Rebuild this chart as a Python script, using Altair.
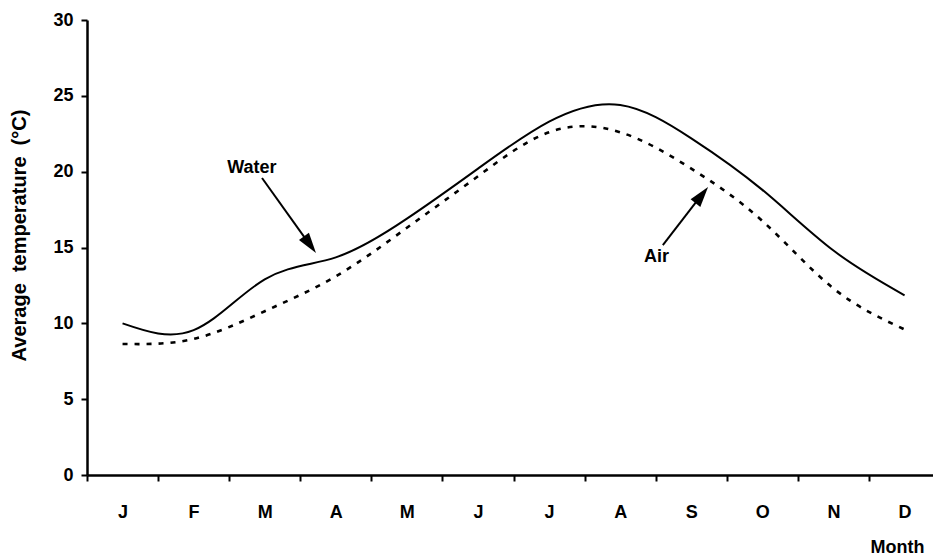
import altair as alt
import pandas as pd

# Monthly mean temperatures (°C)
months = ["J", "F", "M", "A", "M", "J", "J", "A", "S", "O", "N", "D"]
water = [10.0, 9.55, 12.9, 14.35, 16.9, 20.2, 23.3, 24.4, 22.2, 18.8, 14.8, 11.85]
air = [8.64, 8.97, 10.8, 13.1, 16.3, 19.7, 22.6, 22.6, 20.2, 16.75, 12.3, 9.6]

# Callout labels and their arrows (data coordinates: month index, °C)
label_text = ["Water", "Air"]
label_x = [2.32, 8.01]
label_y = [19.91, 14.06]
arrow_x0 = [2.462, 8.10]
arrow_y0 = [19.58, 15.16]
shaft_x1 = [3.10, 8.61]
shaft_y1 = [15.40, 18.25]
tip_x = [3.221, 8.736]
tip_y = [14.64, 18.99]
tip_angle = [144, 38]

FONT = "Liberation Sans"
NBSP2 = "\u00a0\u00a0"

df = pd.DataFrame({
    "x": [i + 0.5 for i in range(len(months))],
    "water": water,
    "air": air,
})
ann = pd.DataFrame({
    "text": label_text, "lx": label_x, "ly": label_y,
    "x0": arrow_x0, "y0": arrow_y0, "x1": shaft_x1, "y1": shaft_y1,
    "tx": tip_x, "ty": tip_y, "ang": tip_angle,
})

month_js = "[" + ",".join(f"'{m}'" for m in months) + "]"

x_scale = alt.Scale(domain=[0, 11.9], nice=False, zero=False)
y_scale = alt.Scale(domain=[0, 30], nice=False)

x_axis = alt.Axis(
    values=list(range(12)), labelExpr=f"{month_js}[datum.value]",
    labelOffset=35.5, labelFlush=False, labelOverlap=False,
    labelFont=FONT, labelFontSize=18, labelFontWeight="bold", labelColor="black",
    labelBaseline="alphabetic", labelPadding=36,
    tickSize=6, tickWidth=2, tickColor="black",
    domainColor="black", domainWidth=2.5, grid=False,
    title="Month", titleFont=FONT, titleFontSize=18, titleFontWeight="bold",
    titleColor="black", titleAlign="right", titleBaseline="alphabetic",
    titleX=837, titleY=77,
)
y_axis = alt.Axis(
    values=[0, 5, 10, 15, 20, 25, 30],
    labelFont=FONT, labelFontSize=18, labelFontWeight="bold", labelColor="black",
    labelPadding=8, tickSize=6, tickWidth=2, tickColor="black",
    domainColor="black", domainWidth=2.5, grid=False,
    title=f"Average{NBSP2}temperature{NBSP2}(°C)", titleFont=FONT, titleFontSize=20,
    titleFontWeight="bold", titleColor="black", titleX=-58, titleY=215,
)

base = alt.Chart(df)

water_line = base.mark_line(color="black", strokeWidth=2, interpolate="natural").encode(
    x=alt.X("x:Q", scale=x_scale, axis=x_axis),
    y=alt.Y("water:Q", scale=y_scale, axis=y_axis),
)
air_line = base.mark_line(
    color="black", strokeWidth=2.6, strokeDash=[5, 7], interpolate="natural"
).encode(
    x=alt.X("x:Q", scale=x_scale),
    y=alt.Y("air:Q", scale=y_scale),
)

ann_base = alt.Chart(ann)
labels = ann_base.mark_text(
    font=FONT, fontSize=18, fontWeight="bold", color="black",
    align="center", baseline="alphabetic",
).encode(
    x=alt.X("lx:Q", scale=x_scale), y=alt.Y("ly:Q", scale=y_scale), text="text:N"
)
shafts = ann_base.mark_rule(color="black", strokeWidth=2).encode(
    x=alt.X("x0:Q", scale=x_scale), y=alt.Y("y0:Q", scale=y_scale),
    x2="x1:Q", y2="y1:Q",
)
heads = ann_base.mark_point(
    shape="M0,0 L-0.6,2 L0.6,2 Z", size=420, filled=True, color="black", opacity=1,
).encode(
    x=alt.X("tx:Q", scale=x_scale), y=alt.Y("ty:Q", scale=y_scale),
    angle=alt.Angle("ang:Q", scale=None),
)

chart = alt.layer(water_line, air_line, shafts, heads, labels).properties(
    width=846, height=455,
    autosize=alt.AutoSizeParams(type="none"),
    padding={"left": 87, "top": 20, "right": 0, "bottom": 81},
    background="white",
).configure_view(stroke=None)

chart.save("out.html", embed_options={"renderer": "svg", "actions": False})
